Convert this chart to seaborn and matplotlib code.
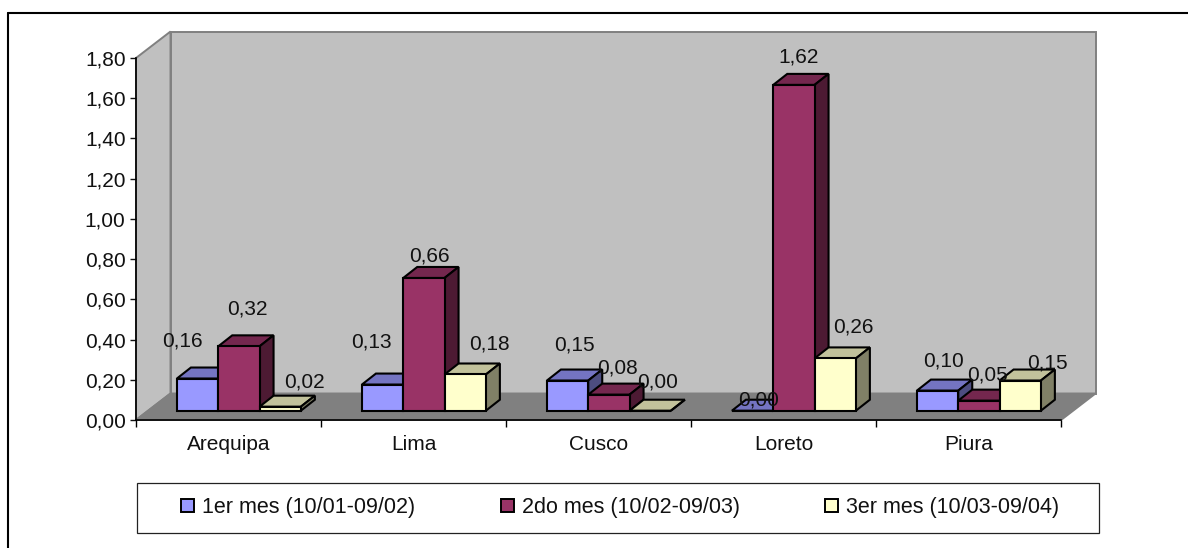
import matplotlib
matplotlib.use("Agg")
import matplotlib.pyplot as plt
import numpy as np
import pandas as pd
import seaborn as sns
from matplotlib.colors import to_rgb
from matplotlib.lines import Line2D
from matplotlib.patches import Polygon, Rectangle
from matplotlib.transforms import Affine2D, IdentityTransform

regions = ["Arequipa", "Lima", "Cusco", "Loreto", "Piura"]
periods = ["1er mes (10/01-09/02)", "2do mes (10/02-09/03)", "3er mes (10/03-09/04)"]
mes_1 = [0.16, 0.13, 0.15, 0.00, 0.10]
mes_2 = [0.32, 0.66, 0.08, 1.62, 0.05]
mes_3 = [0.02, 0.18, 0.00, 0.26, 0.15]
y_ticks = [0.0, 0.2, 0.4, 0.6, 0.8, 1.0, 1.2, 1.4, 1.6, 1.8]
palette = ["#9999FF", "#993366", "#FFFFCC"]

# Pixel nudges of each value label from the top centre of its bar
label_nudges = [
    [(-15, -38), (-11, -43), (7, -36), (6, -11), (6, -30)],
    [(8, -37), (6, -22), (9, -27), (5, -28), (9, -26)],
    [(24, -25), (24, -30), (7, -29), (18, -31), (27, -18)],
]

W, H = 1188, 548
AX_L, AX_R, AX_T, AX_B = 136, 1061, 58, 420   # front plane of the chart box
BOX_DX, BOX_DY = 34.5, 26.5                   # depth of the chart box
BAR_DX, BAR_DY = 14, 11                       # depth of a bar
BAR_SHIFT_X, BAR_SHIFT_Y = 10.4, 9.3          # bars stand mid-way into the box
FONT = 15
LEGEND_FONT = 15.5


def py(y):
    """Convert a top-down pixel row to display coordinates."""
    return H - y


sns.set_theme(style="white")
plt.rcParams["font.family"] = ["Liberation Sans", "DejaVu Sans"]
plt.rcParams["font.size"] = FONT

fig = plt.figure(figsize=(W / 100, H / 100), dpi=100, facecolor="white")
ax = fig.add_axes([AX_L / W, 1 - AX_B / H, (AX_R - AX_L) / W, (AX_B - AX_T) / H])
ax.patch.set_alpha(0)

frame = pd.DataFrame(
    {
        "region": regions * 3,
        "period": np.repeat(periods, len(regions)),
        "value": mes_1 + mes_2 + mes_3,
    }
)
sns.barplot(
    data=frame, x="region", y="value", hue="period", hue_order=periods,
    order=regions, palette=palette, saturation=1, width=0.67, gap=0,
    edgecolor="black", linewidth=1.5, ax=ax, legend=False, errorbar=None,
)
ax.set_xlim(-0.5, len(regions) - 0.5)
ax.set_ylim(0, 1.8)
ax.set_xlabel("")
ax.set_ylabel("")

# Chart box: side wall, back wall and floor
display = IdentityTransform()
wall, floor, wall_edge = "#C0C0C0", "#808080", "#808080"
box = [
    ([(AX_L, AX_B), (AX_L, AX_T), (AX_L + BOX_DX, AX_T - BOX_DY), (AX_L + BOX_DX, AX_B - BOX_DY)], wall),
    ([(AX_L + BOX_DX, AX_T - BOX_DY), (AX_R + BOX_DX, AX_T - BOX_DY), (AX_R + BOX_DX, AX_B - BOX_DY), (AX_L + BOX_DX, AX_B - BOX_DY)], wall),
    ([(AX_L, AX_B), (AX_R, AX_B), (AX_R + BOX_DX, AX_B - BOX_DY), (AX_L + BOX_DX, AX_B - BOX_DY)], floor),
]
for corners, face in box:
    pts = [(x, py(y)) for x, y in corners]
    fig.add_artist(Polygon(pts, closed=True, facecolor=face, edgecolor=wall_edge,
                           linewidth=1.4, transform=display, zorder=-5))

# Extrude every bar: shift its front face into the box, add top and side faces
shift = Affine2D().translate(BAR_SHIFT_X, BAR_SHIFT_Y)
z = 3.0
for group in range(len(regions)):
    for s, container in enumerate(ax.containers):
        bar = container[group]
        value = bar.get_height()
        bar.set_transform(ax.transData + shift)
        bar.set_clip_on(False)
        bar.set_zorder(z + 0.2)
        (x0, y0), (x1, y1) = (ax.transData + shift).transform(
            [(bar.get_x(), 0), (bar.get_x() + bar.get_width(), value)]
        )
        base = np.array(to_rgb(palette[s]))
        top = [(x0, y1), (x1, y1), (x1 + BAR_DX, y1 + BAR_DY), (x0 + BAR_DX, y1 + BAR_DY)]
        side = [(x1, y0), (x1, y1), (x1 + BAR_DX, y1 + BAR_DY), (x1 + BAR_DX, y0 + BAR_DY)]
        for pts, shade in ((top, 0.76), (side, 0.5)):
            ax.add_patch(Polygon(pts, closed=True, facecolor=base * shade, edgecolor="black",
                                 linewidth=1.5, transform=display, clip_on=False, zorder=z))
        nx, ny = label_nudges[s][group]
        ax.annotate(f"{value:.2f}".replace(".", ","), xy=((x0 + x1) / 2, y1), xycoords=display,
                    xytext=(nx, -ny), textcoords="offset pixels", ha="center", va="center",
                    color="#111111", fontsize=FONT, zorder=40, annotation_clip=False)
        z += 1

# Axis lines and ticks
for name in ("top", "right"):
    ax.spines[name].set_visible(False)
for name in ("left", "bottom"):
    ax.spines[name].set_color("black")
    ax.spines[name].set_linewidth(1.2)
    ax.spines[name].set_zorder(2)
ax.set_yticks(y_ticks)
ax.set_yticklabels([f"{t:.2f}".replace(".", ",") for t in y_ticks])
ax.set_xticks(np.arange(len(regions)))
ax.set_xticklabels(regions)
ax.set_xticks(np.arange(len(regions) + 1) - 0.5, minor=True)
ax.tick_params(axis="x", which="major", length=0, pad=11, labelsize=FONT, colors="#111111")
ax.tick_params(axis="x", which="minor", bottom=True, length=5, width=1.0, color="black")
ax.tick_params(axis="y", left=True, length=4, width=1.0, pad=3.5, labelsize=FONT, colors="#111111")

# Outer chart frame, open along the bottom and right edge
frame_x, frame_y = 8, 13
for xs, ys in (([frame_x, frame_x], [H, frame_y]), ([frame_x, W], [frame_y, frame_y])):
    fig.add_artist(Line2D(xs, [py(v) for v in ys], color="black", linewidth=1.5, transform=display))

# Legend box below the chart, entries laid out inside it
fig.add_artist(Rectangle((137, py(532.5)), 962, 49.5, facecolor="white", edgecolor="#222222",
                         linewidth=0.9, transform=display, zorder=1))
handles = [Rectangle((0, 0), 1, 1, facecolor=c, edgecolor="black", linewidth=1.4) for c in palette]
leg = fig.legend(
    handles, periods, ncol=3, loc="center left",
    bbox_to_anchor=(181 / W, 1 - 507.5 / H),
    frameon=False, fontsize=LEGEND_FONT, handlelength=0.6, handleheight=0.6, handletextpad=0.37,
    columnspacing=3.98, borderaxespad=0, borderpad=0, labelcolor="#111111",
)
leg.set_zorder(5)

fig.savefig("out.png", dpi=100, facecolor="white")
